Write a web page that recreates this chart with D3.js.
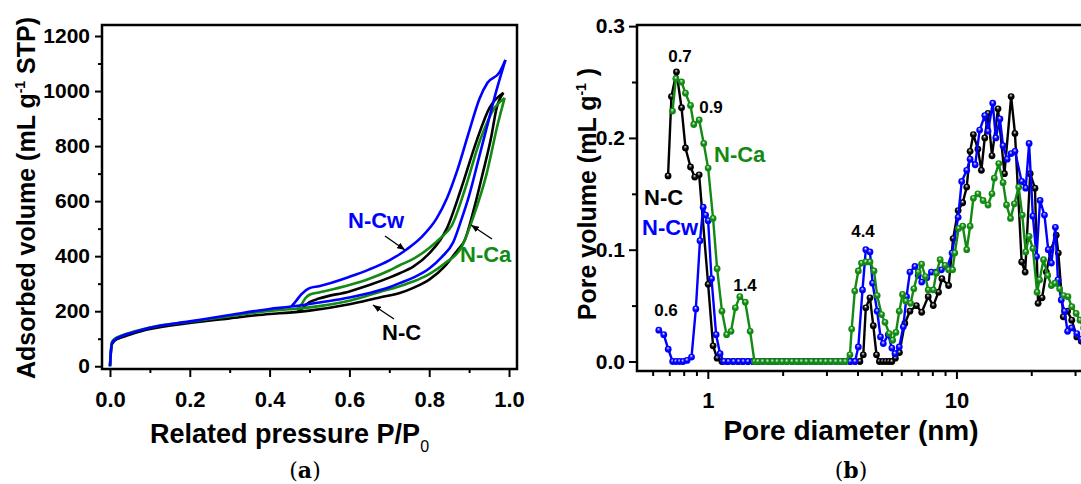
<!DOCTYPE html>
<html>
<head>
<meta charset="utf-8">
<script src="https://cdn.jsdelivr.net/npm/d3@7"></script>
<style>
  html, body { margin: 0; padding: 0; background: #fff; }
  svg { display: block; }
  text { font-family: "Liberation Sans", Arial, sans-serif; font-weight: bold; }
</style>
</head>
<body>
<svg id="chart"></svg>
<script>
// ---- (a) N2 isotherms: adsorption / desorption branches ----
const ncAdsP = [0, 0.002, 0.005, 0.012, 0.03, 0.06, 0.1, 0.2, 0.3, 0.4, 0.45, 0.5, 0.6, 0.676, 0.726, 0.76, 0.8, 0.84, 0.87, 0.889, 0.91, 0.934, 0.955, 0.969, 0.986];
const ncAdsV = [0, 45, 80, 93, 105, 120, 135, 157, 174, 190, 195, 202, 225, 250, 266, 285, 315, 365, 420, 458, 560, 700, 830, 939, 994];
const ncDesP = [0.47, 0.48, 0.49, 0.5, 0.524, 0.6, 0.65, 0.7, 0.726, 0.76, 0.8, 0.844, 0.88, 0.919, 0.951, 0.986];
const ncDesV = [197, 208, 222, 233, 246, 272, 295, 322, 338, 362, 410, 500, 645, 820, 939, 994];

const ncwAdsP = [0, 0.002, 0.005, 0.012, 0.03, 0.06, 0.1, 0.2, 0.3, 0.4, 0.45, 0.5, 0.55, 0.6, 0.65, 0.7, 0.726, 0.76, 0.8, 0.83, 0.86, 0.88, 0.9, 0.925, 0.95, 0.968, 0.991];
const ncwAdsV = [0, 48, 84, 97, 110, 124, 140, 163, 186, 208, 216, 226, 237, 250, 266, 287, 302, 322, 355, 395, 450, 530, 620, 760, 900, 1000, 1113];
const ncwDesP = [0.455, 0.465, 0.48, 0.5, 0.524, 0.6, 0.65, 0.7, 0.726, 0.744, 0.78, 0.819, 0.845, 0.869, 0.901, 0.926, 0.946, 0.976, 0.991];
const ncwDesV = [218, 235, 262, 284, 291, 325, 352, 385, 407, 425, 468, 538, 612, 706, 858, 972, 1030, 1068, 1113];

const ncaAdsP = [0, 0.002, 0.005, 0.012, 0.03, 0.06, 0.1, 0.2, 0.3, 0.4, 0.45, 0.5, 0.6, 0.676, 0.726, 0.76, 0.8, 0.84, 0.881, 0.91, 0.944, 0.972, 0.989];
const ncaAdsV = [0, 50, 88, 100, 112, 126, 141, 162, 182, 201, 207, 214, 238, 270, 291, 308, 335, 375, 433, 540, 700, 881, 975];
const ncaDesP = [0.47, 0.48, 0.49, 0.5, 0.524, 0.6, 0.65, 0.7, 0.726, 0.76, 0.8, 0.83, 0.856, 0.89, 0.926, 0.964, 0.989];
const ncaDesV = [208, 225, 248, 260, 268, 295, 318, 348, 367, 390, 430, 468, 510, 645, 815, 939, 975];

const isoTicksY = [0, 200, 400, 600, 800, 1000, 1200];
const isoTicksX = [0, 0.2, 0.4, 0.6, 0.8, 1.0];

// ---- (b) pore size distribution: [diameter nm, volume mL/g] ----
const ncPore = [
  [0.692, 0.166], [0.714, 0.237], [0.748, 0.259], [0.784, 0.227], [0.813, 0.191], [0.852, 0.174], [0.886, 0.165], [0.923, 0.167],
  [1.003, 0.069], [1.05, 0.014], [1.09, 0.003], [1.14, 0], [1.2, 0], [1.26, 0], [1.32, 0], [1.38, 0], [1.45, 0], [1.52, 0], [1.59, 0],
  [1.66, 0], [1.74, 0], [1.82, 0], [1.9, 0], [1.99, 0], [2.08, 0], [2.18, 0], [2.28, 0], [2.38, 0], [2.49, 0], [2.61, 0], [2.73, 0],
  [2.85, 0], [2.98, 0], [3.12, 0], [3.27, 0], [3.42, 0], [3.57, 0], [3.74, 0], [3.91, 0], [4.09, 0],
  [4.22, 0.006], [4.32, 0.048], [4.49, 0.057], [4.63, 0.032], [4.77, 0.006], [4.9, 0], [5.05, 0], [5.2, 0], [5.35, 0], [5.5, 0],
  [5.68, 0.003], [5.9, 0.008], [6.2, 0.034], [6.5, 0.045], [6.9, 0.05], [7.25, 0.044], [7.7, 0.058], [8.07, 0.05], [8.47, 0.062],
  [8.74, 0.074], [9.3, 0.068], [9.7, 0.11], [10.16, 0.135], [10.6, 0.142], [11.0, 0.156], [11.35, 0.188], [11.7, 0.203], [12.2, 0.19],
  [12.6, 0.171], [13.0, 0.2], [13.4, 0.222], [13.9, 0.184], [14.7, 0.226], [15.6, 0.168], [16.6, 0.237], [17.2, 0.204], [18.3, 0.089],
  [18.9, 0.08], [19.8, 0.168], [20.7, 0.155], [21.3, 0.052], [22.1, 0.057], [23.0, 0.08], [24.0, 0.1], [25.2, 0.113], [25.7, 0.097],
  [26.9, 0.04], [28.0, 0.045], [29.1, 0.037], [30.5, 0.022], [31.8, 0.018]
];
const ncwPore = [
  [0.635, 0.028], [0.665, 0.024], [0.693, 0.011], [0.722, 0], [0.745, 0], [0.77, 0], [0.795, 0], [0.825, 0.001], [0.86, 0.004],
  [0.895, 0.047], [0.93, 0.108], [0.958, 0.138], [0.98, 0.131], [1.003, 0.126], [1.035, 0.074], [1.08, 0.024], [1.12, 0.007],
  [1.16, 0], [1.21, 0], [1.27, 0], [1.33, 0], [1.39, 0], [1.45, 0], [1.52, 0], [1.59, 0], [1.66, 0], [1.74, 0], [1.82, 0], [1.9, 0],
  [1.99, 0], [2.08, 0], [2.18, 0], [2.28, 0], [2.38, 0], [2.49, 0], [2.61, 0], [2.73, 0], [2.85, 0], [2.98, 0], [3.12, 0], [3.27, 0],
  [3.42, 0], [3.57, 0], [3.74, 0], [3.91, 0],
  [4.03, 0.013], [4.19, 0.064], [4.32, 0.1], [4.49, 0.098], [4.6, 0.07], [4.8, 0.045], [4.95, 0.022], [5.08, 0.016], [5.32, 0.024],
  [5.5, 0.012], [5.66, 0.007], [5.89, 0.013], [6.11, 0.031], [6.3, 0.058], [6.5, 0.08], [6.81, 0.085], [7.02, 0.077], [7.25, 0.071],
  [7.6, 0.075], [7.93, 0.08], [8.3, 0.08], [8.7, 0.082], [9.2, 0.085], [9.6, 0.097], [10.16, 0.129], [10.5, 0.161], [11.0, 0.171],
  [11.35, 0.181], [11.9, 0.176], [12.4, 0.207], [13.0, 0.22], [13.4, 0.206], [14.0, 0.231], [14.4, 0.2], [14.96, 0.217], [15.4, 0.193],
  [16.0, 0.181], [16.6, 0.186], [17.2, 0.188], [18.3, 0.161], [19.0, 0.155], [19.6, 0.195], [20.3, 0.13], [21.0, 0.094], [21.7, 0.144],
  [22.6, 0.131], [23.4, 0.1], [24.1, 0.088], [25.0, 0.12], [25.6, 0.073], [26.4, 0.055], [27.2, 0.045], [28.0, 0.027], [29.0, 0.03],
  [30.5, 0.025], [31.8, 0.02]
];
const ncaPore = [
  [0.721, 0.224], [0.744, 0.253], [0.784, 0.25], [0.813, 0.24], [0.852, 0.229], [0.878, 0.212], [0.923, 0.216], [0.963, 0.195],
  [1.003, 0.173], [1.05, 0.128], [1.09, 0.083], [1.14, 0.045], [1.19, 0.024], [1.24, 0.027], [1.29, 0.048], [1.345, 0.058],
  [1.415, 0.053], [1.48, 0.027], [1.54, 0], [1.59, 0], [1.66, 0], [1.74, 0], [1.82, 0], [1.9, 0], [1.99, 0], [2.08, 0], [2.18, 0],
  [2.28, 0], [2.38, 0], [2.49, 0], [2.61, 0], [2.73, 0], [2.85, 0], [2.98, 0], [3.12, 0], [3.27, 0], [3.42, 0], [3.57, 0],
  [3.73, 0.006], [3.79, 0.029], [3.9, 0.063], [4.03, 0.081], [4.15, 0.088], [4.32, 0.089], [4.49, 0.089], [4.66, 0.081], [4.8, 0.059],
  [5.0, 0.042], [5.16, 0.035], [5.37, 0.025], [5.54, 0.019], [5.71, 0.026], [5.89, 0.045], [6.07, 0.06], [6.26, 0.054], [6.54, 0.052],
  [6.74, 0.065], [7.02, 0.08], [7.24, 0.087], [7.5, 0.076], [7.7, 0.064], [8.07, 0.064], [8.3, 0.079], [8.6, 0.091], [9.0, 0.086],
  [9.3, 0.082], [9.65, 0.082], [9.85, 0.097], [10.2, 0.119], [10.6, 0.121], [11.0, 0.1], [11.35, 0.121], [11.7, 0.146], [12.2, 0.15],
  [12.8, 0.144], [13.4, 0.14], [13.9, 0.15], [14.2, 0.164], [14.8, 0.177], [15.4, 0.16], [15.9, 0.14], [16.5, 0.128], [17.1, 0.141],
  [17.8, 0.156], [18.4, 0.131], [19.0, 0.098], [19.6, 0.112], [20.3, 0.101], [21.1, 0.062], [21.6, 0.073], [22.4, 0.091], [23.3, 0.077],
  [24.1, 0.068], [24.9, 0.07], [26.0, 0.065], [27.0, 0.059], [28.1, 0.058], [29.1, 0.049], [30.3, 0.043], [31.4, 0.037], [32.5, 0.03]
];
const poreTicksY = [0, 0.1, 0.2, 0.3];
const poreTicksX = [1, 10];

const colors = { nc: "#000000", ncw: "#0000ff", nca: "#138a13" };

const W = 1081, H = 484;
const svg = d3.select("#chart").attr("width", W).attr("height", H);
const defs = svg.append("defs");

// shaded ball markers
[["nc", "#000000", "#9a9a9a"], ["ncw", "#0000ff", "#9c9cff"], ["nca", "#138a13", "#9ad89a"]].forEach(([k, c, hi]) => {
  const g = defs.append("radialGradient").attr("id", "ball-" + k)
    .attr("cx", "0.5").attr("cy", "0.5").attr("r", "0.55").attr("fx", "0.45").attr("fy", "0.3");
  g.append("stop").attr("offset", "0").attr("stop-color", "#ffffff");
  g.append("stop").attr("offset", "0.15").attr("stop-color", hi);
  g.append("stop").attr("offset", "0.5").attr("stop-color", c);
  g.append("stop").attr("offset", "1").attr("stop-color", c);
});

defs.append("marker").attr("id", "arrow")
  .attr("viewBox", "0 0 10 8").attr("refX", 10).attr("refY", 4)
  .attr("markerWidth", 8).attr("markerHeight", 6.5).attr("markerUnits", "userSpaceOnUse")
  .attr("orient", "auto")
  .append("path").attr("d", "M0,0 L10,4 L0,8 Z").attr("fill", "#000");

function styleAxis(g, size) {
  g.select(".domain").remove();
  g.selectAll(".tick line").attr("stroke", "#000").attr("stroke-width", 2);
  g.selectAll(".tick text").attr("fill", "#000").style("font-size", size + "px");
}

// ================= panel (a) =================
const xA = d3.scaleLinear().domain([-0.02, 1.02]).range([102, 517]);
const yA = d3.scaleLinear().domain([-10, 1240]).range([369, 25]);

const gA = svg.append("g");

gA.append("g").attr("transform", "translate(102,0)")
  .call(d3.axisLeft(yA).tickValues(d3.range(100, 1200, 200)).tickSize(4).tickFormat(""))
  .call(g => styleAxis(g, 21));
gA.append("g").attr("transform", "translate(102,0)")
  .call(d3.axisLeft(yA).tickValues(isoTicksY).tickSize(7).tickPadding(5).tickFormat(d3.format("d")))
  .call(g => styleAxis(g, 21));
gA.append("g").attr("transform", "translate(0,369)")
  .call(d3.axisBottom(xA).tickValues(d3.range(0.1, 1.0, 0.2)).tickSize(4).tickFormat(""))
  .call(g => styleAxis(g, 21));
gA.append("g").attr("transform", "translate(0,369)")
  .call(d3.axisBottom(xA).tickValues(isoTicksX).tickSize(8).tickPadding(14).tickFormat(d3.format(".1f")))
  .call(g => styleAxis(g, 22));

const isoLine = d3.line().x(d => xA(d[0])).y(d => yA(d[1])).curve(d3.curveMonotoneX);
const branches = [
  [ncAdsP, ncAdsV, colors.nc], [ncDesP, ncDesV, colors.nc],
  [ncaAdsP, ncaAdsV, colors.nca], [ncaDesP, ncaDesV, colors.nca],
  [ncwAdsP, ncwAdsV, colors.ncw], [ncwDesP, ncwDesV, colors.ncw]
];
gA.selectAll(".iso").data(branches).join("path")
  .attr("class", "iso")
  .attr("d", d => isoLine(d[0].map((p, i) => [p, d[1][i]])))
  .attr("fill", "none").attr("stroke", d => d[2]).attr("stroke-width", 2.6)
  .attr("stroke-linejoin", "round");

gA.append("rect").attr("x", 102).attr("y", 25).attr("width", 415).attr("height", 344)
  .attr("fill", "none").attr("stroke", "#000").attr("stroke-width", 2.5);

const labelsA = [
  { t: "N-Cw", x: 348, y: 228, c: colors.ncw },
  { t: "N-Ca", x: 460, y: 262, c: colors.nca },
  { t: "N-C", x: 382, y: 340, c: colors.nc }
];
gA.selectAll(".lab").data(labelsA).join("text")
  .attr("x", d => d.x).attr("y", d => d.y).attr("fill", d => d.c)
  .style("font-size", "22px").text(d => d.t);

const arrowsA = [[385, 236, 405, 250], [492, 239, 471, 225], [394, 319, 373, 305]];
gA.selectAll(".arr").data(arrowsA).join("line")
  .attr("x1", d => d[0]).attr("y1", d => d[1]).attr("x2", d => d[2]).attr("y2", d => d[3])
  .attr("stroke", "#000").attr("stroke-width", 1.3).attr("marker-end", "url(#arrow)");

const yTitleA = gA.append("text").attr("transform", "translate(35,198) rotate(-90)")
  .attr("text-anchor", "middle").style("font-size", "25px");
yTitleA.append("tspan").text("Adsorbed volume (mL g");
yTitleA.append("tspan").attr("dy", -10).style("font-size", "14px").text("-1");
yTitleA.append("tspan").attr("dy", 10).text(" STP)");

const xTitleA = gA.append("text").attr("x", 150).attr("y", 443).style("font-size", "27px");
xTitleA.append("tspan").text("Related pressure P/P");
xTitleA.append("tspan").attr("dy", 9).style("font-size", "16px").style("font-weight", "normal").text("0");

// ================= panel (b) =================
const xB = d3.scaleLog().domain([0.519, 37.8]).range([637, 1100]);
const yB = d3.scaleLinear().domain([-0.0085, 0.301]).range([371, 25]);

const gB = svg.append("g");

gB.append("g").attr("transform", "translate(637,0)")
  .call(d3.axisLeft(yB).tickValues([0.05, 0.15, 0.25]).tickSize(5).tickFormat(""))
  .call(g => styleAxis(g, 21));
gB.append("g").attr("transform", "translate(637,0)")
  .call(d3.axisLeft(yB).tickValues(poreTicksY).tickSize(8).tickPadding(4).tickFormat(d3.format(".1f")))
  .call(g => styleAxis(g, 21));
gB.append("g").attr("transform", "translate(0,371)")
  .call(d3.axisBottom(xB).tickValues([0.6, 0.7, 0.8, 0.9, 2, 3, 4, 5, 6, 7, 8, 9, 20, 30]).tickSize(5).tickFormat(""))
  .call(g => styleAxis(g, 21));
gB.append("g").attr("transform", "translate(0,371)")
  .call(d3.axisBottom(xB).tickValues(poreTicksX).tickSize(8).tickPadding(13).tickFormat(d3.format("d")))
  .call(g => styleAxis(g, 22));

const poreLine = d3.line().x(d => xB(d[0])).y(d => yB(d[1]));
const poreSeries = [["nc", ncPore], ["ncw", ncwPore], ["nca", ncaPore]];

poreSeries.forEach(([k, data]) => {
  const s = gB.append("g");
  s.append("path").attr("d", poreLine(data))
    .attr("fill", "none").attr("stroke", colors[k]).attr("stroke-width", 2.4)
    .attr("stroke-linejoin", "round");
  s.selectAll("circle").data(data).join("circle")
    .attr("cx", d => xB(d[0])).attr("cy", d => yB(d[1])).attr("r", 3.4)
    .attr("fill", "url(#ball-" + k + ")");
});

gB.append("path").attr("d", "M1100,25 H637 V371 H1100")
  .attr("fill", "none").attr("stroke", "#000").attr("stroke-width", 2.5);

const peakLabels = [
  { t: "0.7", x: 680, y: 62 }, { t: "0.9", x: 711, y: 113 }, { t: "0.6", x: 666, y: 316 },
  { t: "1.4", x: 745, y: 291 }, { t: "4.4", x: 863, y: 237 }
];
gB.selectAll(".pk").data(peakLabels).join("text")
  .attr("x", d => d.x).attr("y", d => d.y).attr("text-anchor", "middle")
  .style("font-size", "17px").text(d => d.t);

const labelsB = [
  { t: "N-Ca", x: 714, y: 162, c: colors.nca },
  { t: "N-C", x: 644, y: 205, c: colors.nc },
  { t: "N-Cw", x: 642, y: 235, c: colors.ncw }
];
gB.selectAll(".lab").data(labelsB).join("text")
  .attr("x", d => d.x).attr("y", d => d.y).attr("fill", d => d.c)
  .style("font-size", "22px").text(d => d.t);

const yTitleB = gB.append("text").attr("transform", "translate(596,194) rotate(-90)")
  .attr("text-anchor", "middle").style("font-size", "25px");
yTitleB.append("tspan").text("Pore volume (mL g");
yTitleB.append("tspan").attr("dy", -10).style("font-size", "14px").text("-1");
yTitleB.append("tspan").attr("dy", 10).text(" )");

gB.append("text").attr("x", 851).attr("y", 440).attr("text-anchor", "middle")
  .style("font-size", "28px").text("Pore diameter (nm)");

// captions
[["a", 305], ["b", 851]].forEach(([l, x]) => {
  const t = svg.append("text").attr("x", x).attr("y", 478).attr("text-anchor", "middle")
    .style("font-family", "'DejaVu Serif', 'Liberation Serif', serif").style("font-weight", "normal")
    .style("font-size", "22px");
  t.append("tspan").text("(");
  t.append("tspan").style("font-weight", "bold").text(l);
  t.append("tspan").text(")");
});
</script>
</body>
</html>
